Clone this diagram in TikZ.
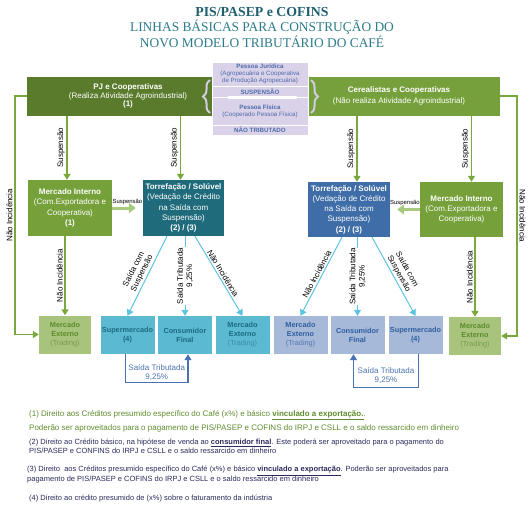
\documentclass[tikz,border=0pt]{standalone}
\usepackage{fontspec}
\setmainfont{Liberation Sans}
\newfontfamily\titlefont{Liberation Serif}
\usetikzlibrary{arrows.meta}
\usetikzlibrary{decorations.pathreplacing}

\definecolor{tituloA}{HTML}{1F5F6E}
\definecolor{tituloB}{HTML}{2C7B8C}
\definecolor{pjverde}{HTML}{5B7B2C}
\definecolor{cerverde}{HTML}{76A03C}
\definecolor{miverde}{HTML}{76A03A}
\definecolor{meverde}{HTML}{A8C47C}
\definecolor{metexto}{HTML}{5B8A2A}
\definecolor{metrading}{HTML}{7A9C4C}
\definecolor{linverde}{HTML}{79A83C}
\definecolor{setaclara}{HTML}{A9C97E}
\definecolor{torteal}{HTML}{1F6B7B}
\definecolor{torazul}{HTML}{3F6DA7}
\definecolor{ciano}{HTML}{5BB9D2}
\definecolor{cianotexto}{HTML}{1B6A82}
\definecolor{cianotrading}{HTML}{3D8AA6}
\definecolor{cianolinha}{HTML}{5CC3E0}
\definecolor{azulpalido}{HTML}{A6B9D9}
\definecolor{azultexto}{HTML}{2F5E9F}
\definecolor{azultrading}{HTML}{5478B0}
\definecolor{azulseta}{HTML}{4A72B2}
\definecolor{roxo}{HTML}{D9D2E9}
\definecolor{roxotexto}{HTML}{4F6BAA}
\definecolor{chave}{HTML}{D3CCE3}
\definecolor{nota1}{HTML}{5E8C2E}
\definecolor{nota2}{HTML}{2A2A5C}

\begin{document}
\begin{tikzpicture}[x=1pt, y=-1pt,
	caixa/.style={rectangle, inner sep=0pt, align=center, font=\fontsize{8}{10.2}\selectfont},
	baixa/.style={rectangle, inner sep=0pt, align=center, minimum height=38pt, font=\fontsize{7.3}{9}\selectfont\bfseries},
	roxa/.style={rectangle, fill=roxo, draw=white, line width=0.5pt, inner sep=0pt, minimum width=96pt, align=center, text=roxotexto, font=\fontsize{6.2}{7.2}\selectfont},
	lverde/.style={draw=linverde, line width=1.5pt},
	lciano/.style={draw=cianolinha, line width=1pt},
	seta/.style={-{Triangle[length=6pt,width=7pt]}},
	rot/.style={font=\fontsize{8}{9.2}\selectfont, inner sep=1.5pt},
	nota/.style={anchor=west, align=left, inner sep=0pt, font=\fontsize{7.5}{8.8}\selectfont}]

	\useasboundingbox (0,0) rectangle (530,522);

	% titulo
	\node[font=\titlefont\bfseries\fontsize{13.8}{15}\selectfont, text=tituloA] (tit1) at (262,12) {PIS/PASEP e COFINS};
	\node[font=\titlefont\fontsize{13.4}{15}\selectfont, text=tituloB] (tit2) at (262,27) {LINHAS BÁSICAS PARA CONSTRUÇÃO DO};
	\node[font=\titlefont\fontsize{13.4}{15}\selectfont, text=tituloB] (tit3) at (262,42) {NOVO MODELO TRIBUTÁRIO DO CAFÉ};

	% caixas do topo
	\node[caixa, fill=pjverde, text=white, minimum width=202pt, minimum height=39pt, font=\fontsize{8}{8.4}\selectfont] (pj) at (128,96) {\textbf{PJ e Cooperativas}\\(Realiza Atividade Agroindustrial)\\\textbf{(1)}};
	\node[caixa, fill=cerverde, text=white, minimum width=202pt, minimum height=39pt, font=\fontsize{8}{10.5}\selectfont] (cer) at (399,96) {\textbf{Cerealistas e Cooperativas}\\(Não realiza Atividade Agroindustrial)};

	\draw[chave, line width=2pt, decorate, decoration={brace, amplitude=7pt}] (210,113) -- (210,80);
	\draw[chave, line width=2pt, decorate, decoration={brace, amplitude=7pt}] (311,80) -- (311,113);

	% pessoa juridica / fisica
	\node[roxa, minimum height=24pt] (pjur) at (260,74) {\textbf{Pessoa Jurídica}\\(Agropecuária e Cooperativa\\de Produção Agropecuária)};
	\node[roxa, minimum height=11pt, font=\fontsize{6.2}{7}\selectfont\bfseries] (susp) at (260,91.5) {SUSPENSÃO};
	\node[roxa, minimum height=28pt] (pfis) at (260,111) {\textbf{Pessoa Física}\\(Cooperado Pessoa Física)};
	\node[roxa, minimum height=10pt, font=\fontsize{6.2}{7}\selectfont\bfseries] (ntrib) at (260,130) {NÃO TRIBUTADO};
	\draw[white, line width=2.5pt] ([xshift=16pt]susp.south west) -- ([xshift=-11pt]susp.south east);

	% segunda linha
	\node[caixa, fill=miverde, text=white, minimum width=84pt, minimum height=56pt] (miL) at (70,208) {\textbf{Mercado Interno}\\(Com.Exportadora e\\Cooperativa)\\\textbf{(1)}};
	\node[caixa, fill=torteal, text=white, minimum width=81pt, minimum height=56pt] (torL) at (183.5,208) {\textbf{Torrefação / Solúvel}\\(Vedação de Crédito\\na Saída com\\Suspensão)\\\textbf{(2) / (3)}};
	\node[caixa, fill=torazul, text=white, minimum width=82pt, minimum height=55pt] (torR) at (349,209.5) {\textbf{Torrefação / Solúvel}\\(Vedação de Crédito\\na Saída com\\Suspensão)\\\textbf{(2) / (3)}};
	\node[caixa, fill=miverde, text=white, minimum width=83pt, minimum height=55pt] (miR) at (461.5,209.5) {\textbf{Mercado Interno}\\(Com.Exportadora e\\Cooperativa)};

	% terceira linha
	\node[baixa, fill=meverde, text=metexto, minimum width=52pt] (meL) at (65,334.5) {Mercado\\Externo\\{\mdseries\color{metrading}(Trading)}};
	\node[baixa, fill=meverde, text=metexto, minimum width=52pt] (meR) at (475,336) {Mercado\\Externo\\{\mdseries\color{metrading}(Trading)}};
	\foreach \nome/\x/\txt in {supL/127.5/{Supermercado\\(4)}, cfL/185/{Consumidor\\Final}, mecL/242.5/{Mercado\\Externo\\{\mdseries\color{cianotrading}(Trading)}}}
		\node[baixa, fill=ciano, text=cianotexto, minimum width=54pt] (\nome) at (\x,335) {\txt};
	\foreach \nome/\x/\txt in {mecR/300.5/{Mercado\\Externo\\{\mdseries\color{azultrading}(Trading)}}, cfR/357.5/{Consumidor\\Final}, supR/415.5/{Supermercado\\(4)}}
		\node[baixa, fill=azulpalido, text=azultexto, minimum width=54pt] (\nome) at (\x,335) {\txt};

	% ligacoes verdes
	\coordinate (eL1) at ([xshift=-3pt]miL.north);
	\coordinate (eL2) at ([xshift=-3pt]torL.north);
	\coordinate (eR1) at ([xshift=8pt]torR.north);
	\coordinate (eR2) at ([xshift=10pt]miR.north);
	\draw[lverde, seta] (pj.south -| eL1) -- (eL1) node[midway, rot, rotate=90, anchor=south] {Suspensão};
	\draw[lverde, seta] (pj.south -| eL2) -- (eL2) node[midway, rot, rotate=90, anchor=south] {Suspensão};
	\draw[lverde, seta] (cer.south -| eR1) -- (eR1) node[midway, rot, rotate=90, anchor=south] {Suspensão};
	\draw[lverde, seta] (cer.south -| eR2) -- (eR2) node[midway, rot, rotate=90, anchor=south] {Suspensão};

	\draw[setaclara, line width=3pt, -{Triangle[length=7pt,width=10pt]}, shorten >=7pt] (miL.east) -- (torL.west) node[midway, above, font=\fontsize{5.9}{6}\selectfont, text=black, inner sep=2pt] {Suspensão};
	\draw[setaclara, line width=3pt, -{Triangle[length=7pt,width=10pt]}, shorten >=7pt] (miR.west) -- (torR.east) node[midway, above, font=\fontsize{5.9}{6}\selectfont, text=black, inner sep=2pt] {Suspensão};

	\draw[lverde, seta] (pj.west) -- ++(-12,0) |- node[pos=0.25, rot, rotate=90, anchor=south] {Não Incidência} (meL.west);
	\draw[lverde, seta] (cer.east) -- ++(17,0) |- node[pos=0.25, rot, rotate=-90, anchor=south] {Não Incidência} (meR.east);
	\draw[lverde, seta] (meL.north |- miL.south) -- (meL.north) node[midway, rot, rotate=90, anchor=south] {Não Incidência};
	\draw[lverde, seta] (meR.north |- miR.south) -- (meR.north) node[midway, rot, rotate=90, anchor=south] {Não Incidência};

	% ligacoes ciano
	\draw[lciano, seta] ([xshift=-16.5pt]torL.south) -- (supL.north) node[midway, sloped, above, rot, align=center] {Saída com\\Suspensão};
	\draw[lciano, seta] (cfL.north |- torL.south) -- (cfL.north) node[midway, rot, rotate=90, align=center, fill=white, inner sep=0.5pt] {Saída Tributada\\9,25\%};
	\draw[lciano, seta] ([xshift=11.5pt]torL.south) -- (mecL.north) node[midway, sloped, above, rot] {Não Incidência};
	\draw[lciano, seta] ([xshift=-7pt]torR.south) -- (mecR.north) node[midway, sloped, above, rot] {Não Incidência};
	\draw[lciano, seta] (cfR.north |- torR.south) -- (cfR.north) node[midway, rot, rotate=90, align=center, fill=white, inner sep=0.5pt] {Saída Tributada\\9,25\%};
	\draw[lciano, seta] ([xshift=23pt]torR.south) -- (supR.north) node[midway, sloped, above, rot, align=center] {Saída com\\Suspensão};

	% saida tributada embaixo
	\draw[azulseta, line width=1.2pt, seta] ([xshift=-2pt]supL.south) -- ++(0,28) -| node[pos=0.25, above, rot, align=center, inner sep=1pt] {Saída Tributada\\9,25\%} ([xshift=3pt]cfL.south);
	\draw[azulseta, line width=1.2pt, seta] ([xshift=3pt]supR.south) -- ++(0,33) -| node[pos=0.25, above, rot, align=center, inner sep=3pt] {Saída Tributada\\9,25\%} ([xshift=-4pt]cfR.south);

	% notas
	\node[nota, text=nota1, font=\fontsize{8}{9}\selectfont] (n1) at (29,421.5) {(1) Direito aos Créditos presumido específico do Café (x\%) e básico \underline{\textbf{vinculado a exportação.}}.\\[4pt]Poderão ser aproveitados para o pagamento de PIS/PASEP e COFINS do IRPJ e CSLL e o saldo ressarcido em dinheiro};
	\node[nota, text=nota2] (n2) at (29,446) {(2) Direito ao Crédito básico, na hipótese de venda ao \underline{\textbf{consumidor final}}. Este poderá ser aproveitado para o pagamento do\\PIS/PASEP e CONFINS do IRPJ e CSLL e o saldo ressarcido em dinheiro};
	\node[nota, text=nota2] (n3) at (27,475) {(3) Direito\ \ aos Créditos presumido específico do Café (x\%) e básico \underline{\textbf{vinculado a exportação}}. Poderão ser aproveitados para\\pagamento de PIS/PASEP e COFINS do IRPJ e CSLL e o saldo ressarcido em dinheiro};
	\node[nota, text=nota2] (n4) at (29,499) {(4) Direito ao crédito presumido de (x\%) sobre o faturamento da indústria};

\end{tikzpicture}
\end{document}
